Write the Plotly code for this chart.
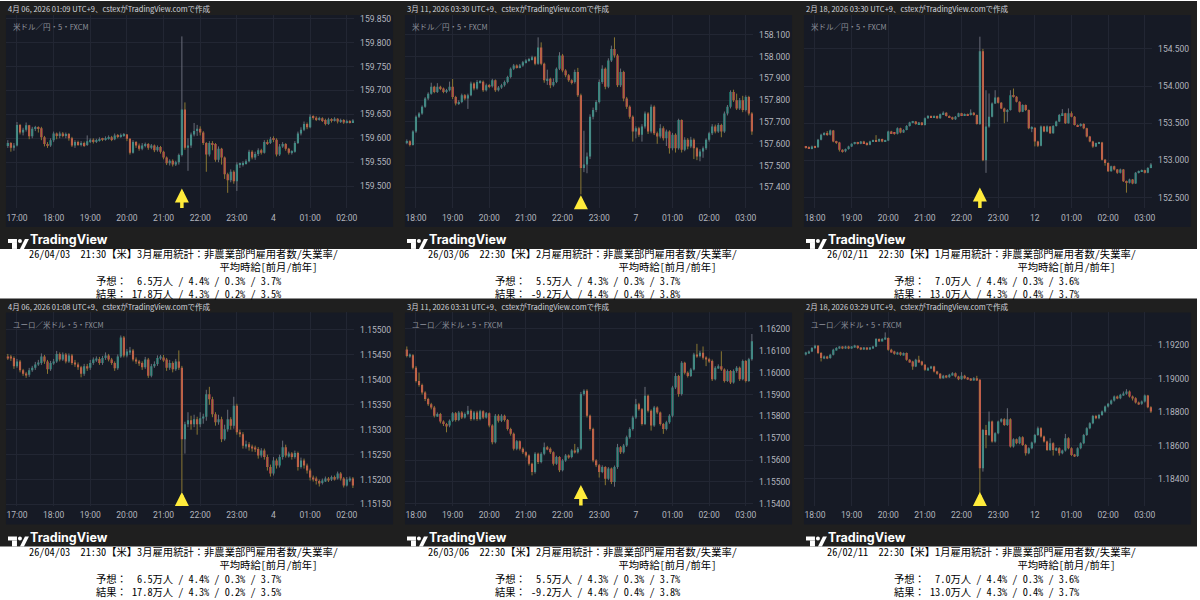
import plotly.graph_objects as go
import pandas as pd

# ------------------------------------------------------------------
# DATA  (5-minute candles)
# ------------------------------------------------------------------
# USD/JPY around 2026-04-03 21:30 release
usdjpy_0403_open = [159.586, 159.590, 159.580, 159.585, 159.628, 159.612, 159.618, 159.627, 159.604, 159.620, 159.622, 159.621,
    159.602, 159.588, 159.585, 159.596, 159.610, 159.605, 159.610, 159.607, 159.609, 159.600, 159.585, 159.592,
    159.588, 159.590, 159.586, 159.594, 159.597, 159.593, 159.596, 159.598, 159.597, 159.600, 159.602, 159.598,
    159.606, 159.603, 159.607, 159.608, 159.599, 159.570, 159.592, 159.585, 159.578, 159.585, 159.588, 159.580,
    159.585, 159.575, 159.582, 159.572, 159.560, 159.548, 159.553, 159.545, 159.550, 159.565, 159.660, 159.580,
    159.585, 159.608, 159.615, 159.620, 159.612, 159.590, 159.566, 159.590, 159.588, 159.555, 159.578, 159.560,
    159.525, 159.512, 159.530, 159.510, 159.545, 159.545, 159.548, 159.552, 159.572, 159.560, 159.567, 159.575,
    159.570, 159.592, 159.590, 159.598, 159.597, 159.566, 159.583, 159.588, 159.578, 159.570, 159.572, 159.590,
    159.610, 159.618, 159.630, 159.623, 159.645, 159.643, 159.640, 159.642, 159.638, 159.630, 159.640, 159.637,
    159.641, 159.635, 159.638, 159.633, 159.636, 159.634]
usdjpy_0403_high = [159.596, 159.592, 159.590, 159.634, 159.630, 159.622, 159.633, 159.628, 159.624, 159.626, 159.625, 159.624,
    159.605, 159.592, 159.600, 159.614, 159.612, 159.614, 159.613, 159.612, 159.611, 159.603, 159.596, 159.595,
    159.594, 159.593, 159.606, 159.600, 159.600, 159.599, 159.602, 159.601, 159.604, 159.606, 159.605, 159.610,
    159.609, 159.610, 159.611, 159.609, 159.600, 159.596, 159.594, 159.589, 159.590, 159.591, 159.590, 159.588,
    159.587, 159.585, 159.584, 159.574, 159.562, 159.556, 159.556, 159.553, 159.568, 159.813, 159.675, 159.600,
    159.612, 159.632, 159.628, 159.625, 159.615, 159.592, 159.594, 159.594, 159.590, 159.583, 159.580, 159.562,
    159.528, 159.535, 159.533, 159.550, 159.549, 159.552, 159.556, 159.576, 159.575, 159.572, 159.579, 159.578,
    159.596, 159.597, 159.603, 159.604, 159.600, 159.588, 159.592, 159.590, 159.580, 159.575, 159.594, 159.614,
    159.623, 159.635, 159.633, 159.650, 159.648, 159.646, 159.645, 159.644, 159.641, 159.643, 159.642, 159.644,
    159.642, 159.641, 159.640, 159.639, 159.638, 159.640]
usdjpy_0403_low = [159.580, 159.572, 159.574, 159.583, 159.608, 159.606, 159.614, 159.598, 159.600, 159.615, 159.612, 159.596,
    159.583, 159.580, 159.582, 159.592, 159.598, 159.600, 159.602, 159.600, 159.595, 159.582, 159.580, 159.584,
    159.583, 159.582, 159.584, 159.590, 159.589, 159.590, 159.593, 159.594, 159.595, 159.597, 159.594, 159.596,
    159.600, 159.601, 159.603, 159.594, 159.566, 159.568, 159.580, 159.574, 159.575, 159.581, 159.576, 159.577,
    159.571, 159.572, 159.568, 159.556, 159.544, 159.543, 159.541, 159.542, 159.545, 159.562, 159.576, 159.532,
    159.580, 159.604, 159.605, 159.606, 159.586, 159.530, 159.562, 159.575, 159.551, 159.550, 159.545, 159.515,
    159.486, 159.508, 159.505, 159.490, 159.538, 159.541, 159.545, 159.550, 159.556, 159.555, 159.563, 159.566,
    159.568, 159.586, 159.588, 159.592, 159.562, 159.563, 159.580, 159.574, 159.566, 159.566, 159.570, 159.588,
    159.606, 159.615, 159.619, 159.621, 159.639, 159.636, 159.637, 159.634, 159.627, 159.628, 159.633, 159.635,
    159.631, 159.632, 159.630, 159.631, 159.631, 159.632]
usdjpy_0403_close = [159.590, 159.580, 159.585, 159.628, 159.612, 159.618, 159.627, 159.604, 159.620, 159.622, 159.621, 159.602,
    159.588, 159.585, 159.596, 159.610, 159.605, 159.610, 159.607, 159.609, 159.600, 159.585, 159.592, 159.588,
    159.590, 159.586, 159.594, 159.597, 159.593, 159.596, 159.598, 159.597, 159.600, 159.602, 159.598, 159.606,
    159.603, 159.607, 159.608, 159.599, 159.570, 159.592, 159.585, 159.578, 159.585, 159.588, 159.580, 159.585,
    159.575, 159.582, 159.572, 159.560, 159.548, 159.553, 159.545, 159.550, 159.565, 159.660, 159.580, 159.585,
    159.608, 159.615, 159.620, 159.612, 159.590, 159.566, 159.590, 159.588, 159.555, 159.578, 159.560, 159.525,
    159.512, 159.530, 159.510, 159.545, 159.545, 159.548, 159.552, 159.572, 159.560, 159.567, 159.575, 159.570,
    159.592, 159.590, 159.598, 159.597, 159.566, 159.583, 159.588, 159.578, 159.570, 159.572, 159.590, 159.610,
    159.618, 159.630, 159.623, 159.645, 159.643, 159.640, 159.642, 159.638, 159.630, 159.640, 159.637, 159.641,
    159.635, 159.638, 159.633, 159.636, 159.634, 159.637]

# USD/JPY around 2026-03-06 22:30 release
usdjpy_0306_open = [157.605, 157.612, 157.595, 157.656, 157.724, 157.739, 157.770, 157.808, 157.830, 157.861, 157.838, 157.861,
    157.853, 157.838, 157.845, 157.861, 157.815, 157.785, 157.792, 157.823, 157.808, 157.823, 157.876, 157.853,
    157.883, 157.885, 157.845, 157.868, 157.864, 157.891, 157.845, 157.858, 157.868, 157.883, 157.906, 157.944,
    157.959, 157.952, 157.959, 157.974, 157.982, 157.989, 157.997, 157.967, 158.042, 157.967, 157.891, 157.898,
    157.868, 157.883, 157.944, 158.005, 157.936, 157.914, 157.891, 157.883, 157.929, 157.823, 157.489, 157.505,
    157.542, 157.724, 157.755, 157.792, 157.883, 157.944, 157.861, 157.982, 158.035, 158.005, 157.868, 157.929,
    157.808, 157.770, 157.724, 157.656, 157.671, 157.641, 157.679, 157.739, 157.656, 157.770, 157.648, 157.633,
    157.671, 157.626, 157.656, 157.580, 157.641, 157.580, 157.709, 157.573, 157.618, 157.588, 157.618, 157.580,
    157.542, 157.565, 157.580, 157.618, 157.648, 157.679, 157.656, 157.686, 157.656, 157.739, 157.770, 157.838,
    157.800, 157.762, 157.800, 157.755, 157.815, 157.739]
usdjpy_0306_high = [157.620, 157.616, 157.662, 157.730, 157.745, 157.776, 157.814, 157.836, 157.880, 157.866, 157.878, 157.866,
    157.858, 157.852, 157.885, 157.897, 157.820, 157.800, 157.830, 157.828, 157.830, 157.885, 157.882, 157.892,
    157.892, 157.890, 157.876, 157.874, 157.898, 157.895, 157.865, 157.875, 157.890, 157.912, 157.950, 157.966,
    157.964, 157.966, 157.980, 157.988, 157.994, 158.004, 158.002, 158.088, 158.065, 157.972, 157.940, 157.903,
    157.900, 157.950, 158.020, 158.012, 157.942, 157.920, 157.896, 157.940, 157.948, 157.830, 157.660, 157.560,
    157.735, 157.766, 157.800, 157.895, 157.960, 157.950, 157.992, 158.050, 158.088, 158.012, 157.945, 157.935,
    157.815, 157.776, 157.730, 157.680, 157.678, 157.690, 157.748, 157.745, 157.780, 157.776, 157.656, 157.690,
    157.680, 157.665, 157.662, 157.650, 157.648, 157.715, 157.712, 157.630, 157.626, 157.632, 157.625, 157.585,
    157.575, 157.588, 157.625, 157.655, 157.690, 157.688, 157.695, 157.692, 157.748, 157.778, 157.845, 157.848,
    157.830, 157.810, 157.820, 157.822, 157.820, 157.745]
usdjpy_0306_low = [157.598, 157.588, 157.592, 157.650, 157.718, 157.733, 157.765, 157.800, 157.825, 157.832, 157.833, 157.846,
    157.832, 157.832, 157.840, 157.805, 157.776, 157.778, 157.786, 157.800, 157.760, 157.818, 157.845, 157.848,
    157.876, 157.838, 157.840, 157.855, 157.858, 157.838, 157.840, 157.852, 157.862, 157.877, 157.900, 157.938,
    157.945, 157.946, 157.953, 157.968, 157.976, 157.982, 157.960, 157.962, 157.960, 157.880, 157.870, 157.855,
    157.862, 157.878, 157.938, 157.928, 157.905, 157.884, 157.872, 157.876, 157.815, 157.368, 157.470, 157.465,
    157.530, 157.712, 157.745, 157.785, 157.875, 157.850, 157.855, 157.975, 157.995, 157.860, 157.860, 157.795,
    157.760, 157.715, 157.610, 157.625, 157.632, 157.610, 157.670, 157.645, 157.648, 157.640, 157.600, 157.625,
    157.615, 157.590, 157.555, 157.570, 157.560, 157.573, 157.560, 157.566, 157.575, 157.580, 157.530, 157.525,
    157.520, 157.536, 157.572, 157.610, 157.640, 157.648, 157.650, 157.630, 157.650, 157.730, 157.762, 157.792,
    157.755, 157.755, 157.745, 157.748, 157.730, 157.641]
usdjpy_0306_close = [157.612, 157.595, 157.656, 157.724, 157.739, 157.770, 157.808, 157.830, 157.861, 157.838, 157.861, 157.853,
    157.838, 157.845, 157.861, 157.815, 157.785, 157.792, 157.823, 157.808, 157.823, 157.876, 157.853, 157.883,
    157.885, 157.845, 157.868, 157.864, 157.891, 157.845, 157.858, 157.868, 157.883, 157.906, 157.944, 157.959,
    157.952, 157.959, 157.974, 157.982, 157.989, 157.997, 157.967, 158.042, 157.967, 157.891, 157.898, 157.868,
    157.883, 157.944, 158.005, 157.936, 157.914, 157.891, 157.883, 157.929, 157.823, 157.489, 157.505, 157.542,
    157.724, 157.755, 157.792, 157.883, 157.944, 157.861, 157.982, 158.035, 158.005, 157.868, 157.929, 157.808,
    157.770, 157.724, 157.656, 157.671, 157.641, 157.679, 157.739, 157.656, 157.770, 157.648, 157.633, 157.671,
    157.626, 157.656, 157.580, 157.641, 157.580, 157.709, 157.573, 157.618, 157.588, 157.618, 157.580, 157.542,
    157.565, 157.580, 157.618, 157.648, 157.679, 157.656, 157.686, 157.656, 157.739, 157.770, 157.838, 157.800,
    157.762, 157.800, 157.755, 157.815, 157.739, 157.656]

# USD/JPY around 2026-02-11 22:30 release
usdjpy_0211_open = [153.189, 153.178, 153.167, 153.189, 153.178, 153.278, 153.344, 153.367, 153.344, 153.402, 153.256, 153.242,
    153.144, 153.122, 153.153, 153.189, 153.224, 153.242, 153.224, 153.256, 153.233, 153.211, 153.256, 153.269,
    153.256, 153.287, 153.256, 153.269, 153.389, 153.367, 153.358, 153.433, 153.376, 153.411, 153.464, 153.509,
    153.522, 153.491, 153.509, 153.478, 153.567, 153.598, 153.580, 153.598, 153.567, 153.620, 153.642, 153.598,
    153.580, 153.553, 153.589, 153.633, 153.611, 153.624, 153.611, 153.642, 153.611, 153.491, 154.469, 153.002,
    153.456, 153.589, 153.767, 153.847, 153.776, 153.700, 153.656, 153.678, 153.878, 153.856, 153.789, 153.656,
    153.744, 153.678, 153.433, 153.440, 153.256, 153.198, 153.456, 153.389, 153.456, 153.367, 153.464, 153.522,
    153.611, 153.633, 153.500, 153.633, 153.589, 153.478, 153.464, 153.491, 153.433, 153.322, 153.256, 153.189,
    153.233, 153.242, 153.011, 152.967, 152.856, 152.922, 152.878, 152.833, 152.878, 152.722, 152.700, 152.744,
    152.691, 152.833, 152.856, 152.869, 152.833, 152.900]
usdjpy_0211_high = [153.195, 153.190, 153.200, 153.198, 153.290, 153.360, 153.380, 153.395, 153.415, 153.410, 153.265, 153.250,
    153.150, 153.160, 153.198, 153.230, 153.250, 153.250, 153.262, 153.264, 153.245, 153.265, 153.280, 153.340,
    153.295, 153.293, 153.278, 153.400, 153.398, 153.375, 153.445, 153.440, 153.420, 153.475, 153.520, 153.532,
    153.530, 153.518, 153.515, 153.578, 153.610, 153.605, 153.606, 153.605, 153.630, 153.660, 153.648, 153.605,
    153.588, 153.598, 153.642, 153.640, 153.632, 153.630, 153.687, 153.650, 153.618, 154.664, 154.500, 153.944,
    153.900, 153.780, 153.944, 153.856, 153.785, 153.710, 153.690, 153.944, 153.967, 153.865, 153.795, 153.755,
    153.752, 153.685, 153.460, 153.445, 153.265, 153.470, 153.465, 153.470, 153.462, 153.475, 153.535, 153.625,
    153.690, 153.640, 153.700, 153.660, 153.598, 153.485, 153.500, 153.500, 153.440, 153.330, 153.265, 153.240,
    153.250, 153.250, 153.020, 152.975, 152.930, 152.930, 152.885, 152.890, 152.885, 152.730, 152.755, 152.750,
    152.845, 152.865, 152.878, 152.875, 152.910, 152.965]
usdjpy_0211_low = [153.160, 153.155, 153.150, 153.165, 153.170, 153.270, 153.335, 153.330, 153.335, 153.245, 153.220, 153.120,
    153.105, 153.110, 153.145, 153.180, 153.215, 153.215, 153.218, 153.225, 153.200, 153.205, 153.248, 153.248,
    153.250, 153.245, 153.248, 153.260, 153.355, 153.345, 153.350, 153.365, 153.370, 153.405, 153.455, 153.500,
    153.480, 153.484, 153.470, 153.470, 153.560, 153.572, 153.574, 153.560, 153.560, 153.612, 153.590, 153.570,
    153.545, 153.545, 153.582, 153.602, 153.604, 153.602, 153.604, 153.602, 153.482, 153.478, 152.990, 152.833,
    153.440, 153.580, 153.760, 153.765, 153.690, 153.500, 153.520, 153.670, 153.845, 153.780, 153.645, 153.650,
    153.665, 153.420, 153.380, 153.189, 153.180, 153.190, 153.380, 153.380, 153.355, 153.360, 153.455, 153.515,
    153.600, 153.490, 153.495, 153.580, 153.470, 153.455, 153.455, 153.420, 153.310, 153.245, 153.170, 153.180,
    153.220, 153.000, 152.930, 152.845, 152.850, 152.865, 152.820, 152.825, 152.710, 152.567, 152.690, 152.680,
    152.685, 152.825, 152.850, 152.825, 152.828, 152.895]
usdjpy_0211_close = [153.178, 153.167, 153.189, 153.178, 153.278, 153.344, 153.367, 153.344, 153.402, 153.256, 153.242, 153.144,
    153.122, 153.153, 153.189, 153.224, 153.242, 153.224, 153.256, 153.233, 153.211, 153.256, 153.269, 153.256,
    153.287, 153.256, 153.269, 153.389, 153.367, 153.358, 153.433, 153.376, 153.411, 153.464, 153.509, 153.522,
    153.491, 153.509, 153.478, 153.567, 153.598, 153.580, 153.598, 153.567, 153.620, 153.642, 153.598, 153.580,
    153.553, 153.589, 153.633, 153.611, 153.624, 153.611, 153.642, 153.611, 153.491, 154.469, 153.002, 153.456,
    153.589, 153.767, 153.847, 153.776, 153.700, 153.656, 153.678, 153.878, 153.856, 153.789, 153.656, 153.744,
    153.678, 153.433, 153.440, 153.256, 153.198, 153.456, 153.389, 153.456, 153.367, 153.464, 153.522, 153.611,
    153.633, 153.500, 153.633, 153.589, 153.478, 153.464, 153.491, 153.433, 153.322, 153.256, 153.189, 153.233,
    153.242, 153.011, 152.967, 152.856, 152.922, 152.878, 152.833, 152.878, 152.722, 152.700, 152.744, 152.691,
    152.833, 152.856, 152.869, 152.833, 152.900, 152.944]

# EUR/USD around 2026-04-03 21:30 release
eurusd_0403_open = [1.15447, 1.15445, 1.15444, 1.15427, 1.15437, 1.15419, 1.15412, 1.15410, 1.15419, 1.15424, 1.15431, 1.15434,
    1.15447, 1.15437, 1.15421, 1.15434, 1.15437, 1.15452, 1.15441, 1.15451, 1.15437, 1.15449, 1.15434, 1.15431,
    1.15425, 1.15412, 1.15427, 1.15424, 1.15434, 1.15441, 1.15442, 1.15434, 1.15444, 1.15449, 1.15441, 1.15434,
    1.15423, 1.15447, 1.15485, 1.15449, 1.15457, 1.15459, 1.15441, 1.15437, 1.15434, 1.15425, 1.15441, 1.15408,
    1.15427, 1.15432, 1.15444, 1.15445, 1.15441, 1.15424, 1.15434, 1.15421, 1.15437, 1.15424, 1.15281, 1.15311,
    1.15319, 1.15311, 1.15321, 1.15311, 1.15323, 1.15326, 1.15371, 1.15361, 1.15331, 1.15315, 1.15321, 1.15281,
    1.15301, 1.15321, 1.15308, 1.15348, 1.15295, 1.15291, 1.15268, 1.15271, 1.15265, 1.15263, 1.15261, 1.15248,
    1.15258, 1.15245, 1.15225, 1.15212, 1.15238, 1.15228, 1.15245, 1.15265, 1.15248, 1.15252, 1.15245, 1.15253,
    1.15225, 1.15238, 1.15228, 1.15218, 1.15204, 1.15202, 1.15197, 1.15193, 1.15198, 1.15202, 1.15200, 1.15205,
    1.15202, 1.15212, 1.15202, 1.15188, 1.15200, 1.15202]
eurusd_0403_high = [1.15452, 1.15450, 1.15447, 1.15442, 1.15440, 1.15422, 1.15416, 1.15424, 1.15428, 1.15436, 1.15440, 1.15453,
    1.15450, 1.15440, 1.15438, 1.15442, 1.15458, 1.15455, 1.15455, 1.15454, 1.15453, 1.15452, 1.15440, 1.15435,
    1.15428, 1.15432, 1.15432, 1.15440, 1.15445, 1.15447, 1.15446, 1.15448, 1.15455, 1.15452, 1.15444, 1.15437,
    1.15451, 1.15489, 1.15488, 1.15462, 1.15466, 1.15462, 1.15445, 1.15440, 1.15437, 1.15446, 1.15444, 1.15432,
    1.15437, 1.15449, 1.15450, 1.15450, 1.15444, 1.15440, 1.15437, 1.15442, 1.15459, 1.15428, 1.15316, 1.15335,
    1.15328, 1.15330, 1.15326, 1.15335, 1.15332, 1.15380, 1.15386, 1.15366, 1.15335, 1.15330, 1.15326, 1.15310,
    1.15340, 1.15325, 1.15366, 1.15352, 1.15300, 1.15295, 1.15278, 1.15275, 1.15270, 1.15268, 1.15265, 1.15263,
    1.15262, 1.15250, 1.15230, 1.15245, 1.15242, 1.15250, 1.15278, 1.15270, 1.15256, 1.15255, 1.15258, 1.15256,
    1.15244, 1.15242, 1.15232, 1.15222, 1.15208, 1.15206, 1.15200, 1.15202, 1.15206, 1.15205, 1.15208, 1.15208,
    1.15216, 1.15215, 1.15205, 1.15205, 1.15206, 1.15205]
eurusd_0403_low = [1.15440, 1.15438, 1.15422, 1.15424, 1.15415, 1.15408, 1.15404, 1.15406, 1.15416, 1.15420, 1.15428, 1.15430,
    1.15432, 1.15412, 1.15418, 1.15430, 1.15434, 1.15437, 1.15438, 1.15433, 1.15434, 1.15430, 1.15426, 1.15420,
    1.15405, 1.15408, 1.15418, 1.15420, 1.15430, 1.15436, 1.15430, 1.15430, 1.15440, 1.15437, 1.15430, 1.15418,
    1.15420, 1.15444, 1.15445, 1.15445, 1.15450, 1.15437, 1.15432, 1.15428, 1.15420, 1.15422, 1.15404, 1.15405,
    1.15424, 1.15428, 1.15440, 1.15436, 1.15418, 1.15420, 1.15415, 1.15418, 1.15420, 1.15175, 1.15252, 1.15305,
    1.15300, 1.15305, 1.15290, 1.15305, 1.15312, 1.15318, 1.15350, 1.15325, 1.15308, 1.15310, 1.15275, 1.15278,
    1.15296, 1.15300, 1.15302, 1.15290, 1.15285, 1.15262, 1.15262, 1.15258, 1.15256, 1.15255, 1.15242, 1.15244,
    1.15240, 1.15218, 1.15206, 1.15208, 1.15222, 1.15224, 1.15240, 1.15244, 1.15244, 1.15240, 1.15242, 1.15218,
    1.15222, 1.15222, 1.15212, 1.15198, 1.15196, 1.15190, 1.15186, 1.15190, 1.15195, 1.15195, 1.15197, 1.15198,
    1.15200, 1.15198, 1.15184, 1.15186, 1.15195, 1.15183]
eurusd_0403_close = [1.15445, 1.15444, 1.15427, 1.15437, 1.15419, 1.15412, 1.15410, 1.15419, 1.15424, 1.15431, 1.15434, 1.15447,
    1.15437, 1.15421, 1.15434, 1.15437, 1.15452, 1.15441, 1.15451, 1.15437, 1.15449, 1.15434, 1.15431, 1.15425,
    1.15412, 1.15427, 1.15424, 1.15434, 1.15441, 1.15442, 1.15434, 1.15444, 1.15449, 1.15441, 1.15434, 1.15423,
    1.15447, 1.15485, 1.15449, 1.15457, 1.15459, 1.15441, 1.15437, 1.15434, 1.15425, 1.15441, 1.15408, 1.15427,
    1.15432, 1.15444, 1.15445, 1.15441, 1.15424, 1.15434, 1.15421, 1.15437, 1.15424, 1.15281, 1.15311, 1.15319,
    1.15311, 1.15321, 1.15311, 1.15323, 1.15326, 1.15371, 1.15361, 1.15331, 1.15315, 1.15321, 1.15281, 1.15301,
    1.15321, 1.15308, 1.15348, 1.15295, 1.15291, 1.15268, 1.15271, 1.15265, 1.15263, 1.15261, 1.15248, 1.15258,
    1.15245, 1.15225, 1.15212, 1.15238, 1.15228, 1.15245, 1.15265, 1.15248, 1.15252, 1.15245, 1.15253, 1.15225,
    1.15238, 1.15228, 1.15218, 1.15204, 1.15202, 1.15197, 1.15193, 1.15198, 1.15202, 1.15200, 1.15205, 1.15202,
    1.15212, 1.15202, 1.15188, 1.15200, 1.15202, 1.15188]

# EUR/USD around 2026-03-06 22:30 release
eurusd_0306_open = [1.16106, 1.16076, 1.16080, 1.16023, 1.15962, 1.15944, 1.15909, 1.15879, 1.15856, 1.15841, 1.15803, 1.15811,
    1.15777, 1.15765, 1.15758, 1.15780, 1.15814, 1.15783, 1.15818, 1.15795, 1.15811, 1.15826, 1.15788, 1.15818,
    1.15788, 1.15823, 1.15795, 1.15814, 1.15758, 1.15682, 1.15803, 1.15780, 1.15803, 1.15783, 1.15742, 1.15720,
    1.15652, 1.15686, 1.15652, 1.15636, 1.15621, 1.15583, 1.15545, 1.15629, 1.15591, 1.15629, 1.15659, 1.15652,
    1.15636, 1.15583, 1.15614, 1.15553, 1.15598, 1.15621, 1.15614, 1.15644, 1.15636, 1.15652, 1.15902, 1.15917,
    1.15803, 1.15742, 1.15598, 1.15576, 1.15545, 1.15568, 1.15515, 1.15561, 1.15500, 1.15568, 1.15659, 1.15636,
    1.15667, 1.15705, 1.15742, 1.15795, 1.15856, 1.15833, 1.15765, 1.15894, 1.15826, 1.15758, 1.15841, 1.15818,
    1.15765, 1.15742, 1.15773, 1.15803, 1.15932, 1.15985, 1.15902, 1.16045, 1.16000, 1.15985, 1.16015, 1.16083,
    1.16076, 1.16091, 1.16068, 1.16061, 1.16053, 1.15970, 1.16023, 1.16030, 1.16015, 1.15962, 1.16008, 1.15955,
    1.16008, 1.16023, 1.15970, 1.16053, 1.15962, 1.16061]
eurusd_0306_high = [1.16120, 1.16088, 1.16085, 1.16030, 1.16000, 1.15950, 1.15915, 1.15885, 1.15862, 1.15848, 1.15818, 1.15816,
    1.15782, 1.15770, 1.15786, 1.15820, 1.15820, 1.15825, 1.15824, 1.15818, 1.15848, 1.15832, 1.15825, 1.15826,
    1.15830, 1.15828, 1.15820, 1.15818, 1.15764, 1.15811, 1.15810, 1.15810, 1.15808, 1.15788, 1.15748, 1.15726,
    1.15692, 1.15690, 1.15658, 1.15640, 1.15626, 1.15588, 1.15636, 1.15634, 1.15636, 1.15680, 1.15665, 1.15658,
    1.15640, 1.15620, 1.15618, 1.15605, 1.15628, 1.15626, 1.15650, 1.15674, 1.15660, 1.15912, 1.15924, 1.15924,
    1.15808, 1.15748, 1.15604, 1.15582, 1.15576, 1.15572, 1.15568, 1.15566, 1.15575, 1.15674, 1.15664, 1.15674,
    1.15712, 1.15750, 1.15803, 1.15880, 1.15862, 1.15838, 1.15935, 1.15900, 1.15832, 1.15848, 1.15846, 1.15822,
    1.15770, 1.15780, 1.15810, 1.15940, 1.15998, 1.15990, 1.16053, 1.16050, 1.16006, 1.16022, 1.16091, 1.16132,
    1.16100, 1.16120, 1.16075, 1.16068, 1.16060, 1.16030, 1.16038, 1.16098, 1.16020, 1.16015, 1.16012, 1.16015,
    1.16030, 1.16028, 1.16060, 1.16058, 1.16068, 1.16177]
eurusd_0306_low = [1.16070, 1.16068, 1.16015, 1.15955, 1.15936, 1.15900, 1.15870, 1.15848, 1.15832, 1.15795, 1.15798, 1.15768,
    1.15756, 1.15727, 1.15750, 1.15774, 1.15776, 1.15778, 1.15788, 1.15790, 1.15805, 1.15780, 1.15782, 1.15780,
    1.15782, 1.15788, 1.15790, 1.15750, 1.15672, 1.15676, 1.15772, 1.15774, 1.15776, 1.15735, 1.15712, 1.15644,
    1.15645, 1.15644, 1.15628, 1.15612, 1.15575, 1.15530, 1.15538, 1.15582, 1.15585, 1.15622, 1.15645, 1.15628,
    1.15575, 1.15578, 1.15545, 1.15548, 1.15592, 1.15606, 1.15608, 1.15630, 1.15630, 1.15645, 1.15895, 1.15795,
    1.15735, 1.15590, 1.15568, 1.15520, 1.15540, 1.15485, 1.15508, 1.15490, 1.15478, 1.15560, 1.15628, 1.15630,
    1.15660, 1.15698, 1.15735, 1.15788, 1.15826, 1.15758, 1.15760, 1.15818, 1.15735, 1.15752, 1.15810, 1.15758,
    1.15720, 1.15736, 1.15766, 1.15796, 1.15925, 1.15890, 1.15895, 1.15992, 1.15978, 1.15980, 1.16010, 1.16068,
    1.16070, 1.16060, 1.16030, 1.16045, 1.15962, 1.15965, 1.16018, 1.16008, 1.15955, 1.15958, 1.15948, 1.15950,
    1.16000, 1.15962, 1.15965, 1.15955, 1.15958, 1.16055]
eurusd_0306_close = [1.16076, 1.16080, 1.16023, 1.15962, 1.15944, 1.15909, 1.15879, 1.15856, 1.15841, 1.15803, 1.15811, 1.15777,
    1.15765, 1.15758, 1.15780, 1.15814, 1.15783, 1.15818, 1.15795, 1.15811, 1.15826, 1.15788, 1.15818, 1.15788,
    1.15823, 1.15795, 1.15814, 1.15758, 1.15682, 1.15803, 1.15780, 1.15803, 1.15783, 1.15742, 1.15720, 1.15652,
    1.15686, 1.15652, 1.15636, 1.15621, 1.15583, 1.15545, 1.15629, 1.15591, 1.15629, 1.15659, 1.15652, 1.15636,
    1.15583, 1.15614, 1.15553, 1.15598, 1.15621, 1.15614, 1.15644, 1.15636, 1.15652, 1.15902, 1.15917, 1.15803,
    1.15742, 1.15598, 1.15576, 1.15545, 1.15568, 1.15515, 1.15561, 1.15500, 1.15568, 1.15659, 1.15636, 1.15667,
    1.15705, 1.15742, 1.15795, 1.15856, 1.15833, 1.15765, 1.15894, 1.15826, 1.15758, 1.15841, 1.15818, 1.15765,
    1.15742, 1.15773, 1.15803, 1.15932, 1.15985, 1.15902, 1.16045, 1.16000, 1.15985, 1.16015, 1.16083, 1.16076,
    1.16091, 1.16068, 1.16061, 1.16053, 1.15970, 1.16023, 1.16030, 1.16015, 1.15962, 1.16008, 1.15955, 1.16008,
    1.16023, 1.15970, 1.16053, 1.15962, 1.16061, 1.16144]

# EUR/USD around 2026-02-11 22:30 release
eurusd_0211_open = [1.19150, 1.19154, 1.19164, 1.19184, 1.19198, 1.19154, 1.19124, 1.19134, 1.19124, 1.19144, 1.19174, 1.19184,
    1.19190, 1.19184, 1.19194, 1.19184, 1.19190, 1.19198, 1.19184, 1.19178, 1.19184, 1.19178, 1.19184, 1.19194,
    1.19238, 1.19230, 1.19238, 1.19244, 1.19174, 1.19164, 1.19150, 1.19158, 1.19144, 1.19154, 1.19114, 1.19104,
    1.19074, 1.19114, 1.19104, 1.19084, 1.19054, 1.19064, 1.19074, 1.19044, 1.19030, 1.19004, 1.19018, 1.19010,
    1.19024, 1.19034, 1.19014, 1.18998, 1.19018, 1.19004, 1.19000, 1.18994, 1.19004, 1.18994, 1.18464, 1.18694,
    1.18664, 1.18744, 1.18624, 1.18674, 1.18744, 1.18758, 1.18724, 1.18758, 1.18594, 1.18638, 1.18614, 1.18650,
    1.18604, 1.18554, 1.18584, 1.18618, 1.18664, 1.18704, 1.18654, 1.18624, 1.18574, 1.18614, 1.18574, 1.18584,
    1.18554, 1.18570, 1.18644, 1.18584, 1.18544, 1.18538, 1.18584, 1.18614, 1.18664, 1.18704, 1.18734, 1.18778,
    1.18764, 1.18784, 1.18804, 1.18834, 1.18850, 1.18870, 1.18894, 1.18884, 1.18904, 1.18910, 1.18924, 1.18894,
    1.18884, 1.18858, 1.18850, 1.18864, 1.18900, 1.18830]
eurusd_0211_high = [1.19162, 1.19170, 1.19190, 1.19204, 1.19202, 1.19160, 1.19140, 1.19138, 1.19150, 1.19180, 1.19190, 1.19195,
    1.19194, 1.19198, 1.19198, 1.19196, 1.19204, 1.19200, 1.19188, 1.19190, 1.19188, 1.19190, 1.19198, 1.19244,
    1.19242, 1.19244, 1.19278, 1.19248, 1.19180, 1.19168, 1.19162, 1.19162, 1.19158, 1.19158, 1.19118, 1.19108,
    1.19120, 1.19138, 1.19108, 1.19088, 1.19070, 1.19078, 1.19078, 1.19048, 1.19034, 1.19024, 1.19022, 1.19030,
    1.19040, 1.19038, 1.19018, 1.19040, 1.19024, 1.19010, 1.19004, 1.19010, 1.19018, 1.18998, 1.18700, 1.18724,
    1.18804, 1.18750, 1.18680, 1.18750, 1.18764, 1.18764, 1.18824, 1.18764, 1.18644, 1.18642, 1.18656, 1.18656,
    1.18610, 1.18590, 1.18624, 1.18670, 1.18714, 1.18710, 1.18660, 1.18630, 1.18644, 1.18620, 1.18590, 1.18590,
    1.18576, 1.18670, 1.18650, 1.18590, 1.18550, 1.18590, 1.18620, 1.18670, 1.18710, 1.18740, 1.18784, 1.18784,
    1.18790, 1.18810, 1.18840, 1.18856, 1.18876, 1.18900, 1.18900, 1.18910, 1.18924, 1.18938, 1.18930, 1.18900,
    1.18890, 1.18864, 1.18870, 1.18906, 1.18904, 1.18836]
eurusd_0211_low = [1.19140, 1.19150, 1.19160, 1.19178, 1.19148, 1.19104, 1.19118, 1.19118, 1.19120, 1.19140, 1.19170, 1.19180,
    1.19178, 1.19180, 1.19178, 1.19180, 1.19186, 1.19178, 1.19172, 1.19174, 1.19172, 1.19174, 1.19180, 1.19190,
    1.19224, 1.19226, 1.19234, 1.19168, 1.19158, 1.19144, 1.19146, 1.19138, 1.19140, 1.19108, 1.19098, 1.19054,
    1.19070, 1.19098, 1.19078, 1.19048, 1.19050, 1.19060, 1.19038, 1.19024, 1.18998, 1.19000, 1.19004, 1.19006,
    1.19020, 1.19008, 1.18992, 1.18994, 1.18998, 1.18994, 1.18988, 1.18990, 1.18988, 1.18314, 1.18444, 1.18584,
    1.18658, 1.18618, 1.18618, 1.18668, 1.18738, 1.18718, 1.18718, 1.18588, 1.18588, 1.18608, 1.18608, 1.18598,
    1.18540, 1.18548, 1.18578, 1.18612, 1.18658, 1.18648, 1.18618, 1.18568, 1.18568, 1.18540, 1.18568, 1.18540,
    1.18548, 1.18564, 1.18578, 1.18538, 1.18532, 1.18532, 1.18578, 1.18608, 1.18658, 1.18698, 1.18728, 1.18758,
    1.18758, 1.18778, 1.18798, 1.18828, 1.18844, 1.18864, 1.18878, 1.18878, 1.18898, 1.18904, 1.18888, 1.18870,
    1.18852, 1.18844, 1.18844, 1.18858, 1.18824, 1.18796]
eurusd_0211_close = [1.19154, 1.19164, 1.19184, 1.19198, 1.19154, 1.19124, 1.19134, 1.19124, 1.19144, 1.19174, 1.19184, 1.19190,
    1.19184, 1.19194, 1.19184, 1.19190, 1.19198, 1.19184, 1.19178, 1.19184, 1.19178, 1.19184, 1.19194, 1.19238,
    1.19230, 1.19238, 1.19244, 1.19174, 1.19164, 1.19150, 1.19158, 1.19144, 1.19154, 1.19114, 1.19104, 1.19074,
    1.19114, 1.19104, 1.19084, 1.19054, 1.19064, 1.19074, 1.19044, 1.19030, 1.19004, 1.19018, 1.19010, 1.19024,
    1.19034, 1.19014, 1.18998, 1.19018, 1.19004, 1.19000, 1.18994, 1.19004, 1.18994, 1.18464, 1.18694, 1.18664,
    1.18744, 1.18624, 1.18674, 1.18744, 1.18758, 1.18724, 1.18758, 1.18594, 1.18638, 1.18614, 1.18650, 1.18604,
    1.18554, 1.18584, 1.18618, 1.18664, 1.18704, 1.18654, 1.18624, 1.18574, 1.18614, 1.18574, 1.18584, 1.18554,
    1.18570, 1.18644, 1.18584, 1.18544, 1.18538, 1.18584, 1.18614, 1.18664, 1.18704, 1.18734, 1.18778, 1.18764,
    1.18784, 1.18804, 1.18834, 1.18850, 1.18870, 1.18894, 1.18884, 1.18904, 1.18910, 1.18924, 1.18894, 1.18884,
    1.18858, 1.18850, 1.18864, 1.18900, 1.18830, 1.18804]

# time-axis labels
ticktext_0403 = ["17:00", "18:00", "19:00", "20:00", "21:00", "22:00", "23:00", "4", "01:00", "02:00"]
ticktext_0306 = ["18:00", "19:00", "20:00", "21:00", "22:00", "23:00", "7", "01:00", "02:00", "03:00"]
ticktext_0211 = ["18:00", "19:00", "20:00", "21:00", "22:00", "23:00", "12", "01:00", "02:00", "03:00"]

# texts
headers = [
    "4月 06, 2026 01:09 UTC+9、cstexがTradingView.comで作成",
    "3月 11, 2026 03:30 UTC+9、cstexがTradingView.comで作成",
    "2月 18, 2026 03:30 UTC+9、cstexがTradingView.comで作成",
    "4月 06, 2026 01:08 UTC+9、cstexがTradingView.comで作成",
    "3月 11, 2026 03:31 UTC+9、cstexがTradingView.comで作成",
    "2月 18, 2026 03:29 UTC+9、cstexがTradingView.comで作成",
]
symbols = ["米ドル／円・5・FXCM"] * 3 + ["ユーロ／米ドル・5・FXCM"] * 3
NB = "\u00a0"
IS = "\u3000"
PAD2 = IS * 18 + NB          # indent of the wrapped 2nd line
PAD34 = IS * 6 + NB          # indent of the forecast / result lines
event_lines = {
    "0403": ["26/04/03" + NB + NB + "21:30【米】3月雇用統計：非農業部門雇用者数/失業率/",
             "平均時給[前月/前年]",
             "予想：" + NB + NB + "6.5万人 / 4.4% / 0.3% / 3.7%",
             "結果：" + NB + "17.8万人 / 4.3% / 0.2% / 3.5%"],
    "0306": ["26/03/06" + NB + NB + "22:30【米】2月雇用統計：非農業部門雇用者数/失業率/",
             "平均時給[前月/前年]",
             "予想：" + NB + NB + "5.5万人 / 4.3% / 0.3% / 3.7%",
             "結果：" + NB + "-9.2万人 / 4.4% / 0.4% / 3.8%"],
    "0211": ["26/02/11" + NB + NB + "22:30【米】1月雇用統計：非農業部門雇用者数/失業率/",
             "平均時給[前月/前年]",
             "予想：" + NB + NB + "7.0万人 / 4.4% / 0.3% / 3.6%",
             "結果：" + NB + "13.0万人 / 4.3% / 0.4% / 3.7%"],
}

# ------------------------------------------------------------------
# PANEL SETUP
# ------------------------------------------------------------------
W, H = 1200, 600
BG_OUT = "#1f1f1f"
BG_CHART = "#161a25"
GRID = "#222633"
UP = "#22ab94"
DOWN = "#f7525f"
WICK_UP = "#686c78"
WICK_DOWN = "#8a7733"
AXIS_TXT = "#b2b5be"
ARROW = "#ffeb3b"
PLOT_BOTTOM = 209

panels = [
    dict(o=usdjpy_0403_open, h=usdjpy_0403_high, l=usdjpy_0403_low, c=usdjpy_0403_close,
         start="2026-04-03 16:45", xr=["2026-04-03 16:42", "2026-04-04 02:12"], tick_start="2026-04-03 17:00",
         ticktext=ticktext_0403, yr=[159.4537, 159.858], tick0=159.5, dtick=0.05, fmt=".3f",
         event="2026-04-03 21:30", tip=189, key="0403"),
    dict(o=usdjpy_0306_open, h=usdjpy_0306_high, l=usdjpy_0306_low, c=usdjpy_0306_close,
         start="2026-03-06 17:45", xr=["2026-03-06 17:42", "2026-03-07 03:12"], tick_start="2026-03-06 18:00",
         ticktext=ticktext_0306, yr=[157.3045, 158.191], tick0=157.4, dtick=0.1, fmt=".3f",
         event="2026-03-06 22:30", tip=196, key="0306"),
    dict(o=usdjpy_0211_open, h=usdjpy_0211_high, l=usdjpy_0211_low, c=usdjpy_0211_close,
         start="2026-02-11 17:45", xr=["2026-02-11 17:42", "2026-02-12 03:12"], tick_start="2026-02-11 18:00",
         ticktext=ticktext_0211, yr=[152.3573, 154.957], tick0=152.5, dtick=0.5, fmt=".3f",
         event="2026-02-11 22:30", tip=188, key="0211"),
    dict(o=eurusd_0403_open, h=eurusd_0403_high, l=eurusd_0403_low, c=eurusd_0403_close,
         start="2026-04-03 16:45", xr=["2026-04-03 16:42", "2026-04-04 02:12"], tick_start="2026-04-03 17:00",
         ticktext=ticktext_0403, yr=[1.151474, 1.155353], tick0=1.1515, dtick=0.0005, fmt=".5f",
         event="2026-04-03 21:30", tip=195, key="0403"),
    dict(o=eurusd_0306_open, h=eurusd_0306_high, l=eurusd_0306_low, c=eurusd_0306_close,
         start="2026-03-06 17:45", xr=["2026-03-06 17:42", "2026-03-07 03:12"], tick_start="2026-03-06 18:00",
         ticktext=ticktext_0306, yr=[1.153909, 1.16276], tick0=1.154, dtick=0.001, fmt=".5f",
         event="2026-03-06 22:30", tip=188, key="0306"),
    dict(o=eurusd_0211_open, h=eurusd_0211_high, l=eurusd_0211_low, c=eurusd_0211_close,
         start="2026-02-11 17:45", xr=["2026-02-11 17:42", "2026-02-12 03:12"], tick_start="2026-02-11 18:00",
         ticktext=ticktext_0211, yr=[1.182396, 1.19398], tick0=1.184, dtick=0.002, fmt=".5f",
         event="2026-02-11 22:30", tip=195, key="0211"),
]


def px(x):
    return x / W


def py(y):
    return 1 - y / H


fig = go.Figure()
shapes, annotations, axes = [], [], {}
TXT_FONT = "Noto Sans CJK JP, Noto Sans, sans-serif"
MONO_FONT = "Noto Sans Mono CJK JP, Noto Sans CJK JP, monospace"

for k, p in enumerate(panels):
    col, row = k % 3, k // 3
    x0, y0 = 400 * col, 300 * row
    sfx = "" if k == 0 else str(k + 1)
    n = min(len(p["o"]), len(p["h"]), len(p["l"]), len(p["c"]))
    o, h, l, c = p["o"][:n], p["h"][:n], p["l"][:n], p["c"][:n]
    times = pd.date_range(p["start"], periods=n, freq="5min")
    span = p["yr"][1] - p["yr"][0]
    up = [c[i] >= o[i] for i in range(n)]

    # wicks
    for flag, color in ((True, WICK_UP), (False, WICK_DOWN)):
        wx, wy = [], []
        for i in range(n):
            if up[i] == flag:
                wx += [times[i], times[i], None]
                wy += [l[i], h[i], None]
        fig.add_trace(go.Scatter(x=wx, y=wy, mode="lines", line=dict(color=color, width=1),
                                 xaxis="x" + sfx, yaxis="y" + sfx, hoverinfo="skip", showlegend=False))
    # bodies
    base = [min(o[i], c[i]) for i in range(n)]
    hgt = [max(abs(c[i] - o[i]), span * 0.005) for i in range(n)]
    fig.add_trace(go.Bar(x=times, y=hgt, base=base, width=205000,
                         marker=dict(color=[UP if u else DOWN for u in up], line=dict(width=0)),
                         xaxis="x" + sfx, yaxis="y" + sfx, hoverinfo="skip", showlegend=False))

    tickvals = pd.date_range(p["tick_start"], periods=len(p["ticktext"]), freq="h")
    axes["xaxis" + sfx] = dict(
        domain=[px(x0 + 6), px(x0 + 355)], anchor="y" + sfx, type="date", range=p["xr"],
        tickmode="array", tickvals=list(tickvals), ticktext=p["ticktext"],
        showgrid=True, gridcolor=GRID, gridwidth=1, zeroline=False, showline=False, ticks="",
        ticklabelstandoff=3,
        tickfont=dict(family="Roboto, sans-serif", size=8.5, color=AXIS_TXT), fixedrange=True,
        rangeslider=dict(visible=False))
    axes["yaxis" + sfx] = dict(
        domain=[py(y0 + PLOT_BOTTOM), py(y0 + 14)], anchor="x" + sfx, side="right", range=p["yr"],
        tick0=p["tick0"], dtick=p["dtick"], tickformat=p["fmt"],
        showgrid=True, gridcolor=GRID, gridwidth=1, zeroline=False, showline=False, ticks="",
        ticklabelstandoff=5, tickfont=dict(family="Roboto, sans-serif", size=8.5, color=AXIS_TXT),
        fixedrange=True)

    # backgrounds
    shapes.append(dict(type="rect", xref="paper", yref="paper", x0=px(x0), x1=px(x0 + 400),
                       y0=py(y0 + 250), y1=py(y0), fillcolor=BG_OUT, line=dict(width=0), layer="below"))
    shapes.append(dict(type="rect", xref="paper", yref="paper", x0=px(x0 + 6), x1=px(x0 + 394),
                       y0=py(y0 + 228), y1=py(y0 + 14), fillcolor=BG_CHART, line=dict(width=0), layer="below"))
    # TradingView logo icon (cut by the white band)
    shapes.append(dict(type="rect", xref="paper", yref="paper", x0=px(x0 + 8), x1=px(x0 + 17),
                       y0=py(y0 + 244), y1=py(y0 + 240), fillcolor="white", line=dict(width=0), layer="above"))
    shapes.append(dict(type="rect", xref="paper", yref="paper", x0=px(x0 + 12), x1=px(x0 + 17),
                       y0=py(y0 + 250), y1=py(y0 + 244), fillcolor="white", line=dict(width=0), layer="above"))
    shapes.append(dict(type="circle", xref="paper", yref="paper", x0=px(x0 + 18), x1=px(x0 + 22),
                       y0=py(y0 + 244), y1=py(y0 + 240), fillcolor="white", line=dict(width=0), layer="above"))
    shapes.append(dict(type="path", xref="paper", yref="paper",
                       path="M %f %f L %f %f L %f %f L %f %f Z" % (
                           px(x0 + 20), py(y0 + 250), px(x0 + 25), py(y0 + 240),
                           px(x0 + 29), py(y0 + 240), px(x0 + 24), py(y0 + 250)),
                       fillcolor="white", line=dict(width=0), layer="above"))

    # header / symbol / logo texts
    annotations.append(dict(text=headers[k], xref="paper", yref="paper", x=px(x0 + 6), y=py(y0 + 8),
                            xanchor="left", yanchor="middle", showarrow=False,
                            font=dict(family=TXT_FONT, size=7.5, color="#d1d4dc")))
    annotations.append(dict(text=symbols[k], xref="paper", yref="paper", x=px(x0 + 11), y=py(y0 + 26),
                            xanchor="left", yanchor="middle", showarrow=False,
                            font=dict(family=TXT_FONT, size=7.5, color="#8f929c")))
    annotations.append(dict(text="<b>TradingView</b>", xref="paper", yref="paper", x=px(x0 + 29), y=py(y0 + 241),
                            xanchor="left", yanchor="middle", showarrow=False, borderpad=0,
                            font=dict(family="Inter, Roboto, sans-serif", size=12.5, color="white")))

    # bottom event text (one 4-line block)
    ev = event_lines[p["key"]]
    block = "<br>".join([ev[0], PAD2 + ev[1], PAD34 + ev[2], PAD34 + ev[3]])
    annotations.append(dict(text=block, xref="paper", yref="paper", x=px(x0 + 28), y=py(y0 + 275),
                            xanchor="left", yanchor="middle", align="left", showarrow=False, borderpad=0,
                            font=dict(family=MONO_FONT, size=10.3, color="black")))

    # yellow arrow at the release candle
    annotations.append(dict(text="", x=p["event"], y=py(y0 + p["tip"]), xref="x" + sfx, yref="paper",
                            ax=0, ay=210 - p["tip"], showarrow=True, arrowhead=2, arrowsize=0.8,
                            arrowwidth=3.5, arrowcolor=ARROW, standoff=0))

fig.update_layout(
    width=W, height=H, margin=dict(l=0, r=0, t=0, b=0),
    paper_bgcolor="white", plot_bgcolor=BG_CHART,
    showlegend=False, barmode="overlay", hovermode=False,
    shapes=shapes, annotations=annotations, **axes)

fig.write_html("out.html", config={"displayModeBar": False})
